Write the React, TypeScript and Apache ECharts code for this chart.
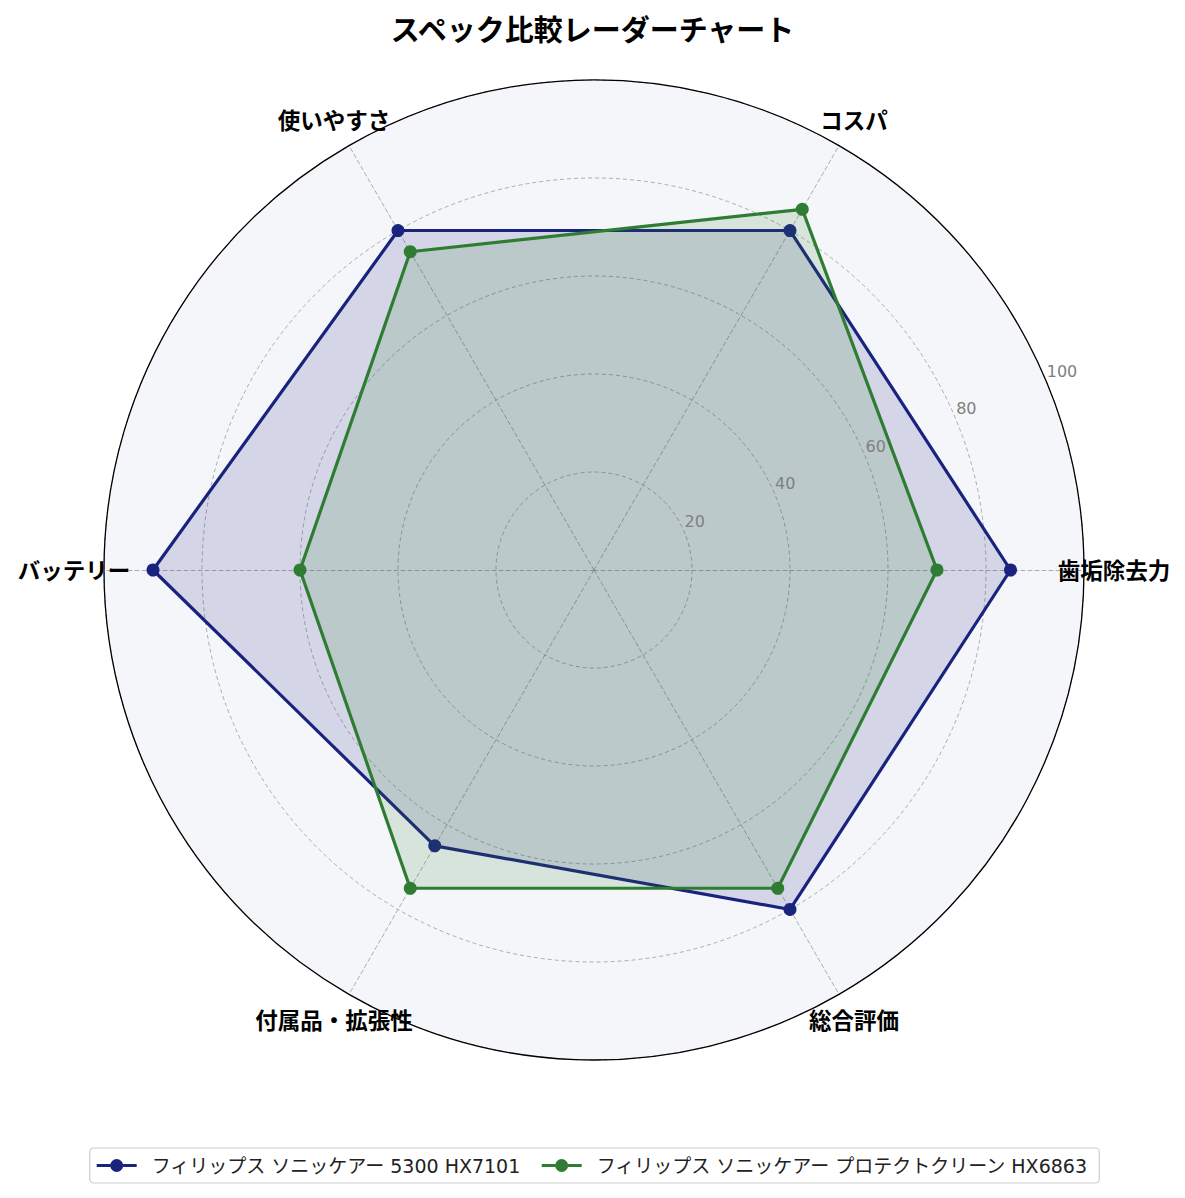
import React, { useEffect, useRef } from "react";
import * as echarts from "echarts";

const titleText = "スペック比較レーダーチャート";
const indicators = ["歯垢除去力", "コスパ", "使いやすさ", "バッテリー", "付属品・拡張性", "総合評価"];
const seriesNames = [
  "フィリップス ソニッケアー 5300 HX7101",
  "フィリップス ソニッケアー プロテクトクリーン HX6863",
];
const valuesA = [85, 80, 80, 90, 65, 80];
const valuesB = [70, 85, 75, 60, 75, 75];
const radialTicks = [20, 40, 60, 80, 100];
const seriesColors = ["#1a237e", "#2e7d32"];

const W = 1185;
const H = 1198;
const CX = 594;
const CY = 570;
const R = 490;
const LABEL_R = 520;
const FONT = "'Noto Sans CJK JP', 'Noto Sans', sans-serif";
const LATIN_FONT = "'DejaVu Sans', 'Noto Sans CJK JP', sans-serif";

const ICON =
  "path://M0 5.5 L13.6 5.5 L13.6 8.5 L0 8.5 Z M26.4 5.5 L40 5.5 L40 8.5 L26.4 8.5 Z M13.5 7 A6.5 6.5 0 1 1 26.5 7 A6.5 6.5 0 1 1 13.5 7 Z";

export default function App() {
  const ref = useRef<HTMLDivElement>(null);
  useEffect(() => {
    document.body.style.margin = "0";
    if (!ref.current) return;
    const chart = echarts.init(ref.current, undefined, { renderer: "svg" });
    const n = indicators.length;
    const nameTexts = indicators.map((name, i) => {
      const a = (i * 2 * Math.PI) / n;
      return {
        type: "text",
        z: 100,
        x: CX + LABEL_R * Math.cos(a),
        y: CY - 1 - LABEL_R * Math.sin(a),
        style: {
          text: name,
          fill: "#000",
          font: `bold 22.5px ${FONT}`,
          textAlign: "center",
          textVerticalAlign: "middle",
        },
      };
    });
    const option: any = {
      animation: false,
      backgroundColor: "#ffffff",
      textStyle: { fontFamily: FONT },
      title: {
        text: titleText,
        left: "center",
        top: 8,
        textStyle: { fontSize: 29, fontWeight: "bold", color: "#000", fontFamily: FONT },
      },
      legend: {
        left: "center",
        top: 1148,
        orient: "horizontal",
        itemWidth: 40,
        itemHeight: 14,
        itemGap: 21,
        padding: [8, 11, 8, 7],
        borderColor: "#cccccc",
        borderWidth: 1.2,
        borderRadius: 4,
        data: seriesNames.map((name, i) => ({
          name,
          icon: ICON,
          itemStyle: { color: seriesColors[i] },
        })),
        textStyle: { fontSize: 19, color: "#222", fontFamily: LATIN_FONT, padding: [0, 0, 0, 10] },
      },
      graphic: nameTexts,
      polar: { center: [CX, CY], radius: R },
      angleAxis: {
        type: "value",
        min: 0,
        max: 360,
        startAngle: 22.5,
        z: 10,
        axisLine: { show: true, lineStyle: { color: "#000", width: 1.3 } },
        axisTick: { show: false },
        axisLabel: { show: false },
        splitLine: { show: false },
      },
      radiusAxis: {
        type: "value",
        min: 0,
        max: 100,
        interval: 20,
        z: 10,
        axisLine: { show: false },
        axisTick: { show: false },
        splitLine: { show: false },
        axisLabel: {
          show: true,
          color: "#808080",
          fontSize: 16,
          fontFamily: LATIN_FONT,
          margin: 0,
          align: "left",
          verticalAlign: "bottom",
          padding: [0, 0, 3, 0],
          formatter: (v: number) => (radialTicks.indexOf(v) >= 0 ? String(v) : ""),
        },
      },
      radar: {
        center: [CX, CY],
        radius: R,
        startAngle: 0,
        shape: "circle",
        splitNumber: 5,
        indicator: indicators.map((name) => ({ name, min: 0, max: 100 })),
        axisName: { show: false },
        axisLine: { lineStyle: { color: "#999999", type: [4, 3], width: 0.8 } },
        splitLine: {
          lineStyle: {
            color: "#999999",
            type: [4, 3],
            width: 0.8,
          },
        },
        splitArea: { areaStyle: { color: ["#f5f6fa"] } },
      },
      series: [valuesA, valuesB].map((vals, i) => ({
        type: "radar",
        name: seriesNames[i],
        symbol: "circle",
        symbolSize: 13,
        z: 3 + i,
        lineStyle: { color: seriesColors[i], width: 3.2 },
        itemStyle: { color: seriesColors[i] },
        areaStyle: { color: seriesColors[i], opacity: 0.15 },
        data: [{ name: seriesNames[i], value: vals }],
      })),
    };
    chart.setOption(option);
    return () => chart.dispose();
  }, []);
  return <div ref={ref} style={{ width: W, height: H }} />;
}
